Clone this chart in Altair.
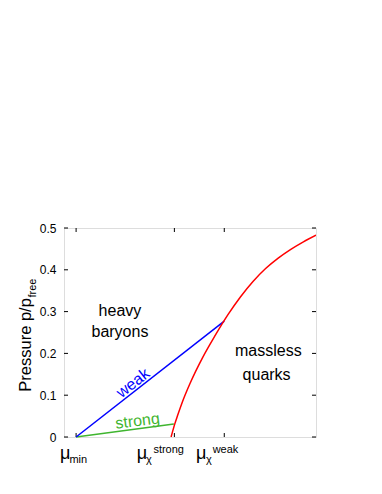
import altair as alt
import pandas as pd

# ---- data ----
mu_ticks = [0.048, 0.438, 0.636]
p_ticks = [0, 0.1, 0.2, 0.3, 0.4, 0.5]

red_mu = [0.425, 0.440, 0.450, 0.475, 0.500, 0.550, 0.600, 0.650, 0.700, 0.750, 0.800, 0.850, 0.900, 0.950, 1.000]
red_p = [0.0, 0.032, 0.050, 0.092, 0.128, 0.190, 0.243, 0.292, 0.335, 0.372, 0.403, 0.428, 0.449, 0.467, 0.483]
weak_mu = [0.048, 0.636]
weak_p = [0.0, 0.277]
strong_mu = [0.048, 0.436]
strong_p = [0.0, 0.031]

region_text = ["heavy", "baryons", "massless", "quarks"]
region_mu = [0.222, 0.222, 0.811, 0.804]
region_p = [0.289, 0.240, 0.193, 0.136]

# ---- layout ----
W, H = 252, 209
XMAX, YMAX = 1.0, 0.5
FONT = "Liberation Sans"
GREEN = "#3fb52f"


def ux(px):
    return px / W * XMAX


def uy(px):
    return px / H * YMAX


xs = alt.Scale(domain=[0, XMAX], nice=False, zero=False)
ys = alt.Scale(domain=[0, YMAX], nice=False, zero=False)

yaxis = alt.Axis(
    values=p_ticks, ticks=False, domain=False, grid=False, title=None,
    labelPadding=8, labelFontSize=12, labelColor="black", labelFont=FONT,
    labelExpr="datum.value == 0 ? '0' : format(datum.value, '.1f')")

X = alt.X("mu:Q", scale=xs, axis=None)
Y = alt.Y("p:Q", scale=ys, axis=yaxis)

red = pd.DataFrame({"mu": red_mu, "p": red_p})
weak = pd.DataFrame({"mu": weak_mu, "p": weak_p})
strong = pd.DataFrame({"mu": strong_mu, "p": strong_p})

yt = pd.DataFrame({"p": p_ticks})
ytick_l = alt.Chart(yt).mark_rule(color="black", strokeWidth=1).encode(
    y=Y, x=alt.value(0), x2=alt.value(4))
ytick_r = alt.Chart(yt).mark_rule(color="black", strokeWidth=1).encode(
    y=Y, x=alt.value(W - 4), x2=alt.value(W))
xt = pd.DataFrame({"mu": mu_ticks})
xtick_b = alt.Chart(xt).mark_rule(color="black", strokeWidth=1).encode(
    x=X, y=alt.value(H - 4), y2=alt.value(H))
xtick_t = alt.Chart(xt).mark_rule(color="black", strokeWidth=1).encode(
    x=X, y=alt.value(0), y2=alt.value(4))

red_line = alt.Chart(red).mark_line(color="#ff0000", strokeWidth=1.5,
                                    interpolate="monotone", clip=True).encode(x=X, y=Y)
weak_line = alt.Chart(weak).mark_line(color="#0000ff", strokeWidth=1.5).encode(x=X, y=Y)
strong_line = alt.Chart(strong).mark_line(color=GREEN, strokeWidth=1.5).encode(x=X, y=Y)

regions = alt.Chart(pd.DataFrame({"t": region_text, "mu": region_mu, "p": region_p})).mark_text(
    font=FONT, fontSize=16, color="black", align="center", baseline="alphabetic"
).encode(x=X, y=Y, text="t:N")

weak_lbl = alt.Chart(pd.DataFrame({"t": ["weak"], "mu": [0.274], "p": [0.129]})).mark_text(
    font=FONT, fontSize=16, color="#0000ff", align="center", baseline="middle", angle=322
).encode(x=X, y=Y, text="t:N")
strong_lbl = alt.Chart(pd.DataFrame({"t": ["strong"], "mu": [0.292], "p": [0.038]})).mark_text(
    font=FONT, fontSize=16, color=GREEN, align="center", baseline="middle", angle=353
).encode(x=X, y=Y, text="t:N")

# tick labels built from pieces (main symbol, subscript, superscript)
parts = [
    [("μ", -16.0, 231, 18), ("min", -6.7, 235, 11)],
    [("μ", -37.6, 231, 18), ("χ", -28.3, 235, 11), ("strong", -21.0, 225, 11)],
    [("μ", -28.3, 231, 18), ("χ", -18.3, 235, 11), ("weak", -11.6, 225, 11)],
]
rows = []
for tick, plist in zip(mu_ticks, parts):
    for txt, dxp, ypx, fs in plist:
        rows.append({"t": txt, "mu": tick + ux(dxp), "p": YMAX - uy(ypx), "fs": fs})
tick_lbls = alt.Chart(pd.DataFrame(rows)).mark_text(
    font=FONT, color="black", align="left", baseline="alphabetic"
).encode(x=X, y=Y, text="t:N", size=alt.Size("fs:Q", scale=None, legend=None))

# y axis title with subscript
title_rows = [
    {"t": "Pressure p/p", "mu": ux(-33.5), "p": YMAX - uy(163.7), "fs": 16.5},
    {"t": "free", "mu": ux(-28.5), "p": YMAX - uy(69.5), "fs": 11},
]
ytitle = alt.Chart(pd.DataFrame(title_rows)).mark_text(
    font=FONT, color="black", align="left", baseline="alphabetic", angle=270
).encode(x=X, y=Y, text="t:N", size=alt.Size("fs:Q", scale=None, legend=None))

chart = alt.layer(
    ytick_l, ytick_r, xtick_b, xtick_t,
    strong_line, weak_line, red_line,
    regions, weak_lbl, strong_lbl, tick_lbls, ytitle,
).properties(
    width=W, height=H,
    autosize=alt.AutoSizeParams(type="none"),
    padding={"left": 56, "top": 220, "right": 58, "bottom": 49},
).configure_view(stroke="black", strokeWidth=1.2).configure(background="white")

chart.save("out.html", embed_options={"renderer": "svg", "actions": False})
